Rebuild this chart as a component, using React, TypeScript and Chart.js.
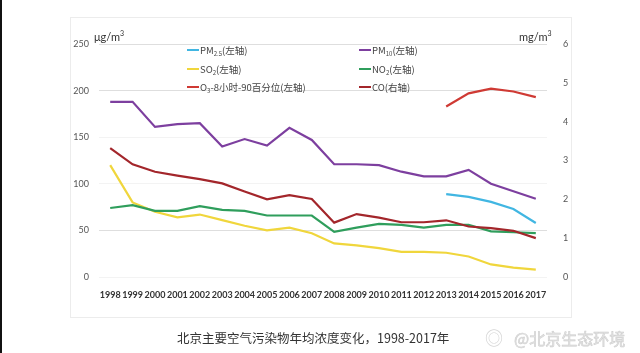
import React, { useEffect, useRef } from "react";
import { Chart, registerables } from "chart.js";

Chart.register(...registerables);

const years = ["1998","1999","2000","2001","2002","2003","2004","2005","2006","2007","2008","2009","2010","2011","2012","2013","2014","2015","2016","2017"];
const pm25 = [null,null,null,null,null,null,null,null,null,null,null,null,null,null,null,89,86,80.6,73,58];
const pm10 = [188,188,161,164,165,140,148,141,160,147,121,121,120,113,108,108,115,100,92,84];
const so2 = [120,80,70,64,67,61,55,50,53,47,36,34,31,27,27,26,22,13.5,10,8];
const no2 = [74,77,71,71,76,72,71,66,66,66,48.5,53,57,56,53,56,56,49,48,47];
const o3 = [null,null,null,null,null,null,null,null,null,null,null,null,null,null,null,183,197,202,199,193];
const co = [3.32,2.9,2.71,2.61,2.52,2.41,2.2,2.0,2.11,2.01,1.4,1.62,1.53,1.41,1.41,1.46,1.3,1.26,1.19,1.0];
const leftTicks = [0,50,100,150,200,250];
const rightTicks = [0,1,2,3,4,5,6];

const C = {
  pm25: "#41b6e2",
  pm10: "#7d3f9f",
  so2: "#f0d63c",
  no2: "#2f9e5c",
  o3: "#cf3a34",
  co: "#a3262b",
};

const legendItems = [
  { color: C.pm25, label: <>PM<sub>2.5</sub>(左轴)</> },
  { color: C.pm10, label: <>PM<sub>10</sub>(左轴)</> },
  { color: C.so2, label: <>SO<sub>2</sub>(左轴)</> },
  { color: C.no2, label: <>NO<sub>2</sub>(左轴)</> },
  { color: C.o3, label: <>O<sub>3</sub>-8小时-90百分位(左轴)</> },
  { color: C.co, label: <>CO(右轴)</> },
];

export default function App() {
  const ref = useRef<HTMLCanvasElement | null>(null);
  useEffect(() => {
    if (!ref.current) return;
    const ds = (label: string, data: any[], color: string, axis: string) => ({
      label, data, borderColor: color, backgroundColor: color, borderWidth: 2.2,
      pointRadius: 0, tension: 0, yAxisID: axis, spanGaps: false,
    });
    const chart = new Chart(ref.current, {
      type: "line",
      data: {
        labels: years,
        datasets: [
          ds("CO", co, C.co, "y1"),
          ds("NO2", no2, C.no2, "y"),
          ds("SO2", so2, C.so2, "y"),
          ds("PM2.5", pm25, C.pm25, "y"),
          ds("PM10", pm10, C.pm10, "y"),
          ds("O3", o3, C.o3, "y"),
        ],
      },
      options: {
        responsive: false,
        animation: false,
        layout: { padding: { top: 44, left: 0, right: 0, bottom: 0 } },
        plugins: { legend: { display: false }, tooltip: { enabled: false } },
        scales: {
          x: {
            offset: true,
            grid: { display: false },
            border: { display: false },
            ticks: { color: "#333", font: { family: "Lato", size: 9, weight: "bold" }, padding: 5, maxRotation: 0, autoSkip: false },
            afterFit: (s: any) => { s.height = 76; },
          },
          y: {
            position: "left",
            min: 0, max: 250,
            afterBuildTicks: (s: any) => { s.ticks = leftTicks.map((v) => ({ value: v })); },
            grid: {
              drawTicks: false,
              color: (ctx: any) => {
                const v = ctx.tick && ctx.tick.value;
                return v === 200 || v === 50 || v === 250 ? "#dedede" : "#f3f3f3";
              },
            },
            border: { display: false },
            ticks: { color: "#555", font: { family: "Lato", size: 9 }, padding: 10 },
            afterFit: (s: any) => { s.width = 99; },
          },
          y1: {
            position: "right",
            min: 0, max: 6,
            afterBuildTicks: (s: any) => { s.ticks = rightTicks.map((v) => ({ value: v })); },
            grid: { display: false, drawTicks: false },
            border: { display: false },
            ticks: { color: "#555", font: { family: "Lato", size: 9 }, padding: 16 },
            afterFit: (s: any) => { s.width = 93; },
          },
        },
      },
    });
    return () => chart.destroy();
  }, []);

  const textBase: React.CSSProperties = { position: "absolute", fontFamily: "Lato, 'Noto Sans CJK SC', sans-serif", color: "#333", whiteSpace: "nowrap" };

  return (
    <div style={{ position: "absolute", left: 0, top: 0, width: 640, height: 353, background: "#fff", overflow: "hidden" }}>
      <div style={{ position: "absolute", left: 0, top: 0, width: 2, height: 353, background: "#111" }} />
      <div style={{ position: "absolute", left: 70, top: 17, width: 502, height: 301, border: "1px solid #ececec", boxSizing: "border-box" }} />
      <canvas ref={ref} width={640} height={353} style={{ position: "absolute", left: 0, top: 0, width: 640, height: 353 }} />
      <div style={{ ...textBase, left: 94, top: 29, fontSize: 11, color: "#333" }}>μg/m<sup style={{ fontSize: 7 }}>3</sup></div>
      <div style={{ ...textBase, left: 519, top: 29, fontSize: 11, color: "#333" }}>mg/m<sup style={{ fontSize: 7 }}>3</sup></div>
      {legendItems.map((it, i) => {
        const col = i % 2;
        const row = Math.floor(i / 2);
        return (
          <div key={i} style={{ ...textBase, left: col === 0 ? 187 : 359, top: 43 + row * 18.5, height: 14, display: "flex", alignItems: "center", fontSize: 9.5, fontFamily: "'Noto Sans CJK SC', sans-serif", color: "#444" }}>
            <span style={{ display: "inline-block", width: 12, height: 2, background: it.color, marginRight: 1 }} />
            <span style={{ lineHeight: "14px" }}>
              {React.Children.map(it.label.props.children, (c: any) =>
                typeof c === "string" ? c : React.cloneElement(c, { style: { fontSize: 6, verticalAlign: "-2px", lineHeight: 0 } })
              )}
            </span>
          </div>
        );
      })}
      <div style={{ ...textBase, left: 177, top: 329, fontSize: 12.5, fontFamily: "'Noto Sans CJK SC', sans-serif", color: "#333", lineHeight: "18px" }}>
        北京主要空气污染物年均浓度变化，1998-2017年
      </div>
      <div style={{ ...textBase, left: 485, top: 328, fontSize: 18, color: "#d6d6d6", lineHeight: "20px" }}>◎</div>
      <div style={{ ...textBase, left: 514, top: 328, fontSize: 16, fontFamily: "'Noto Sans CJK SC', sans-serif", color: "#e6e6e6", lineHeight: "20px", WebkitTextStroke: "0.6px #cfcfcf" }}>
        @北京生态环境
      </div>
    </div>
  );
}
